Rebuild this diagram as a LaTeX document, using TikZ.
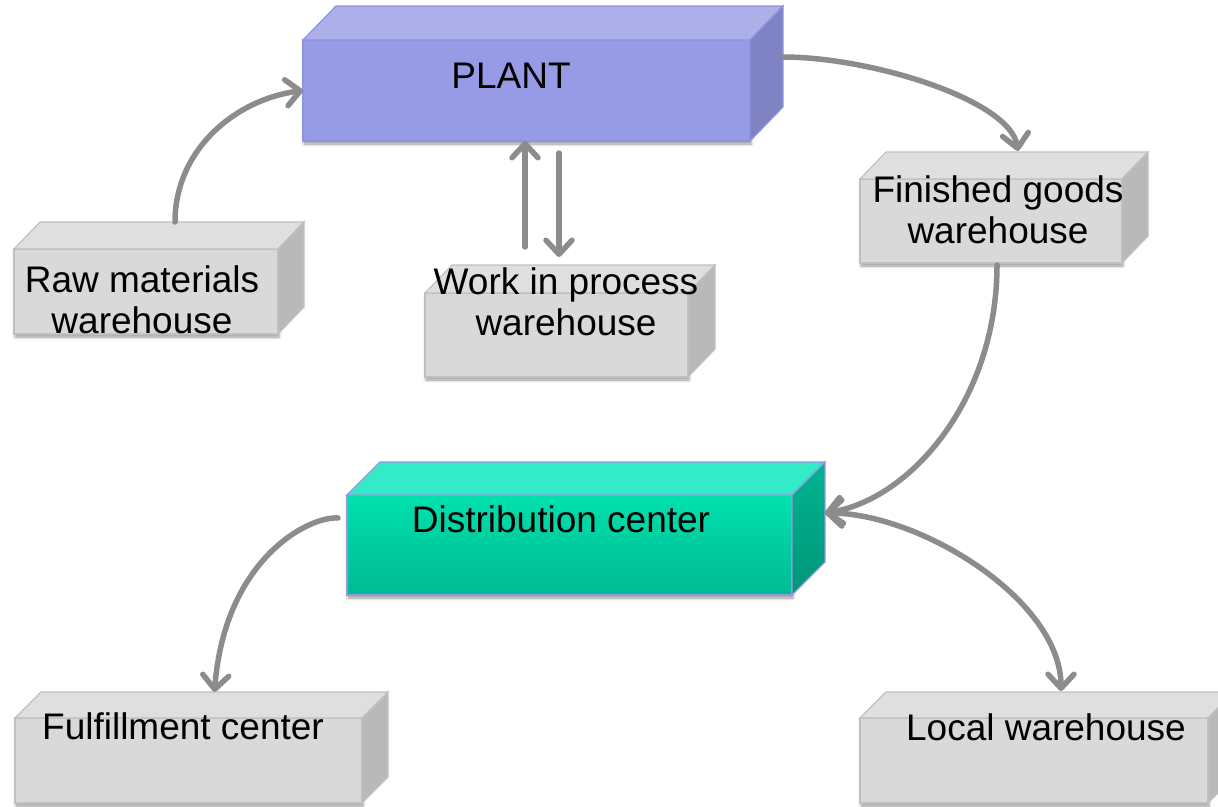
\documentclass[tikz,border=0pt]{standalone}
\usepackage{fontspec}
\setmainfont{Liberation Sans}
\usetikzlibrary{calc,arrows.meta,shadows.blur}

% face colours
\definecolor{plantfront}{RGB}{151,155,230}
\definecolor{planttop}{RGB}{173,175,232}
\definecolor{plantside}{RGB}{127,131,196}
\definecolor{plantedge}{RGB}{142,147,228}
\definecolor{dctop}{RGB}{51,235,198}
\definecolor{dcfronttop}{RGB}{0,225,173}
\definecolor{dcfrontbot}{RGB}{0,185,146}
\definecolor{dcsidetop}{RGB}{0,180,143}
\definecolor{dcsidebot}{RGB}{0,150,120}
\definecolor{dcedge}{RGB}{150,150,228}
\definecolor{whfront}{RGB}{217,217,217}
\definecolor{whtop}{RGB}{223,223,223}
\definecolor{whside}{RGB}{185,185,185}
\definecolor{whedge}{RGB}{192,192,192}
\definecolor{flow}{RGB}{140,140,140}

% one cuboid: front node plus its top and right faces
% #1 node, #2 depth right, #3 depth up, #4 top face style, #5 side face style
\newcommand\cubefaces[5]{%
  \path[#4] (#1.north west) -- ++(#2,-#3) -- ($(#1.north east)+(#2,-#3)$)
    -- (#1.north east) -- cycle;
  \path[#5] (#1.north east) -- ++(#2,-#3) -- ($(#1.south east)+(#2,-#3)$)
    -- (#1.south east) -- cycle;
}

\tikzset{
  faceplate/.style={rectangle, inner sep=0pt, outer sep=0pt, line width=1.2pt,
    blur shadow={shadow xshift=1pt, shadow yshift=-3pt,
      shadow blur radius=3pt, shadow opacity=40}},
  plantface/.style={faceplate, fill=plantfront, draw=plantedge},
  dcface/.style={faceplate, top color=dcfronttop, bottom color=dcfrontbot, draw=dcedge},
  whface/.style={faceplate, fill=whfront, draw=whedge},
  lbl/.style={inner sep=0pt, outer sep=0pt, align=center,
    font=\fontsize{37}{41}\selectfont},
  barb/.tip={Straight Barb[length=14pt, width=26pt, line cap=round, line join=round]},
  flowline/.style={draw=flow, line width=5.5pt, line cap=round, -barb},
}

\begin{document}
\begin{tikzpicture}[x=1pt, y=-1pt]
\useasboundingbox (0,0) rectangle (1218,806);

% front faces
\node[plantface, minimum width=447pt, minimum height=101pt] (plant) at (526.5,90.5) {};
\node[dcface,    minimum width=445pt, minimum height=100pt] (dc)    at (569.5,545) {};
\node[whface,    minimum width=264pt, minimum height=85pt]  (raw)   at (146,291.5) {};
\node[whface,    minimum width=263pt, minimum height=84pt]  (wip)   at (556.5,335) {};
\node[whface,    minimum width=262pt, minimum height=84pt]  (fin)   at (991,221) {};
\node[whface,    minimum width=347pt, minimum height=85pt]  (ful)   at (188.5,760.5) {};
\node[whface,    minimum width=348pt, minimum height=85pt]  (loc)   at (1034,760.5) {};

% top and side faces
\cubefaces{plant}{33}{34}{fill=planttop, draw=plantedge, line width=1.2pt}{fill=plantside, draw=plantedge, line width=1.2pt}
\cubefaces{dc}{33}{33}{fill=dctop, draw=dcedge, line width=1.2pt}{top color=dcsidetop, bottom color=dcsidebot, draw=dcedge, line width=1.2pt}
\cubefaces{raw}{26}{27}{fill=whtop, draw=whedge, line width=1.2pt}{fill=whside, draw=whedge, line width=1.2pt}
\cubefaces{wip}{27}{28}{fill=whtop, draw=whedge, line width=1.2pt}{fill=whside, draw=whedge, line width=1.2pt}
\cubefaces{fin}{26}{27}{fill=whtop, draw=whedge, line width=1.2pt}{fill=whside, draw=whedge, line width=1.2pt}
\cubefaces{ful}{26}{26}{fill=whtop, draw=whedge, line width=1.2pt}{fill=whside, draw=whedge, line width=1.2pt}
\cubefaces{loc}{26}{26}{fill=whtop, draw=whedge, line width=1.2pt}{fill=whside, draw=whedge, line width=1.2pt}

% labels
\node[lbl, anchor=base] (plantlbl) at (511,88) {PLANT};
\node[lbl, anchor=base] (dclbl) at (561,532) {Distribution center};
\node[lbl] (rawlbl) at (142,300) {Raw materials\\warehouse};
\node[lbl] (wiplbl) at (566,302) {Work in process\\warehouse};
\node[lbl] (finlbl) at (998,210) {Finished goods\\warehouse};
\node[lbl, anchor=base] (fullbl) at (183,739) {Fulfillment center};
\node[lbl, anchor=base] (loclbl) at (1046,740) {Local warehouse};

% flows
\draw[flowline] ($(raw.north)+(29,-27)$) .. controls +(0,-72) and +(-68,9) .. (plant.west);
\draw[flowline] ($(plant.north east)+(33,17)$) .. controls +(88,0) and +(-8,-51) .. ($(fin.north)+(27,-28)$);
\draw[flowline] ($(fin.south)+(6,2)$) .. controls +(0,135) and +(85,-13) .. ($(dc.east)+(33,-32)$);
\draw[flowline, barb-barb]
  ($(dc.east)+(33,-32)$) .. controls +(95,0) and +(0,-91) .. ($(loc.north)+(27,-27)$);
\draw[flowline] ($(dc.west)+(-9,-27)$) .. controls +(-30,-2) and +(10,-132) .. ($(ful.north)+(26,-26)$);
\draw[flowline] ($(wip.north)+(-31.5,-46)$) -- ($(plant.south)+(-1.5,0)$);
\draw[flowline] ($(plant.south)+(32.5,12)$) -- ($(wip.north)+(2.5,-36)$);
\end{tikzpicture}
\end{document}
